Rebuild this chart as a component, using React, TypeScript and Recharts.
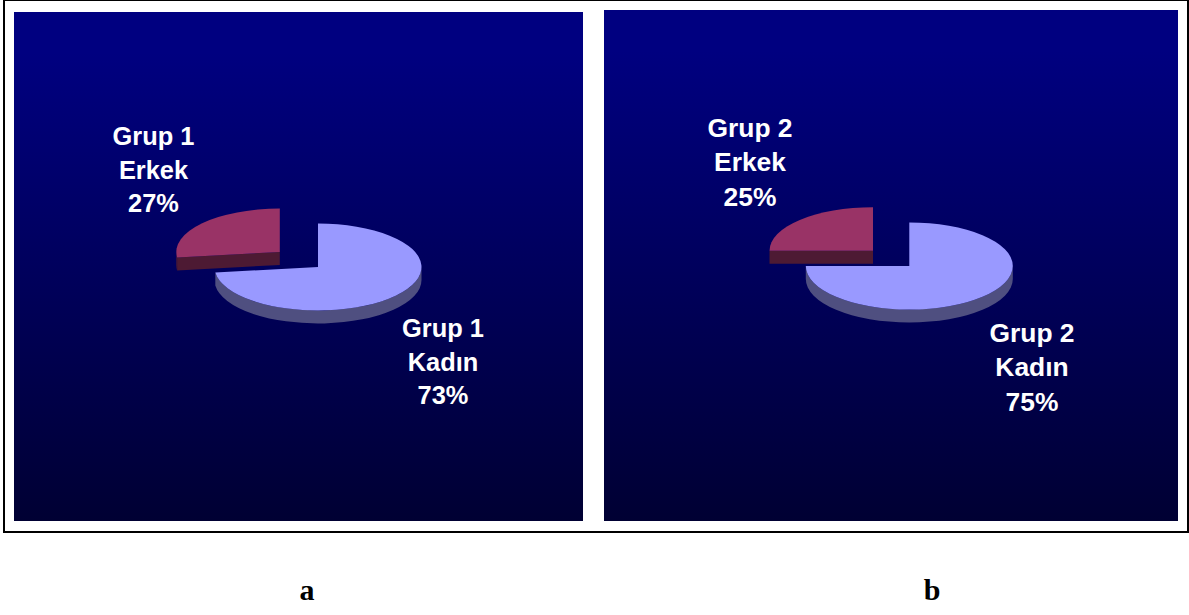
import { PieChart, Pie, Cell } from "recharts"

const categories = ["Kadın", "Erkek"]
const group1Values = [73, 27]
const group2Values = [75, 25]
const sliceColors = ["#9999ff", "#993366"]
const wallColors = ["#4f4f80", "#4d1a33"]

const SQUASH = 0.42
const DEPTH = 13

const toData = (values: number[]) => categories.map((name, i) => ({ name, value: values[i] }))

// Elliptical slice with a visible wall, so the flat pie reads as a tilted disc
function TiltedSlice(props: any) {
  const { cx, cy, outerRadius: r, startAngle, endAngle, index, shift } = props
  const ox = cx + (index === 1 ? shift.x : 0)
  const oy = cy + (index === 1 ? shift.y : 0)
  const pt = (deg: number, dy = 0) => {
    const a = (deg * Math.PI) / 180
    return [ox + r * Math.cos(a), oy - r * SQUASH * Math.sin(a) + dy]
  }
  const hi = Math.max(startAngle, endAngle)
  const lo = Math.min(startAngle, endAngle)
  const ry = r * SQUASH
  const sweep = startAngle > endAngle ? 1 : 0
  const big = hi - lo > 180 ? 1 : 0
  const [sx, sy] = pt(startAngle)
  const [ex, ey] = pt(endAngle)
  const top = `M${ox},${oy} L${sx},${sy} A${r},${ry} 0 ${big} ${sweep} ${ex},${ey} Z`

  // outer wall: only the part of the rim on the lower half is visible
  const walls: string[] = []
  const ranges = [[-180, 0], [180, 360]]
  ranges.forEach(([a, b]) => {
    const from = Math.max(a, lo)
    const to = Math.min(b, hi)
    if (to <= from) return
    const [x1, y1] = pt(from)
    const [x2, y2] = pt(to)
    const [x3, y3] = pt(to, DEPTH)
    const [x4, y4] = pt(from, DEPTH)
    walls.push(`M${x1},${y1} A${r},${ry} 0 0 0 ${x2},${y2} L${x3},${y3} A${r},${ry} 0 0 1 ${x4},${y4} Z`)
  })
  // cut face toward the viewer on the detached slice
  if (index === 1) {
    const [fx, fy] = pt(startAngle)
    walls.push(`M${ox},${oy} L${fx},${fy} L${fx},${fy + DEPTH} L${ox},${oy + DEPTH} Z`)
  }

  return (
    <g>
      {walls.map((d, i) => (
        <path key={i} d={d} fill={wallColors[index]} />
      ))}
      <path d={top} fill={sliceColors[index]} />
    </g>
  )
}

function PiePanel({ group, values, left, top, width, height, cx, cy, shift, labelSpots, fontSize, lineGap }: any) {
  const renderLabel = (p: any) => {
    const spot = labelSpots[p.index]
    const lines = [group, p.name, `${values[p.index]}%`]
    return (
      <text
        key={p.index}
        x={spot.x}
        y={spot.y}
        textAnchor="middle"
        fill="#ffffff"
        fontFamily="Liberation Sans, Arial, sans-serif"
        fontWeight="bold"
        fontSize={fontSize}
      >
        {lines.map((line, i) => (
          <tspan key={i} x={spot.x} dy={i === 0 ? 0 : lineGap}>
            {line}
          </tspan>
        ))}
      </text>
    )
  }

  return (
    <div
      style={{
        position: "absolute",
        left,
        top,
        width,
        height,
        background: "linear-gradient(#000080 0%, #000080 8%, #000033 100%)",
      }}
    >
      <PieChart width={width} height={height} margin={{ top: 0, right: 0, bottom: 0, left: 0 }}>
        <Pie
          data={toData(values)}
          dataKey="value"
          nameKey="name"
          cx={cx}
          cy={cy}
          outerRadius={103.5}
          startAngle={90}
          endAngle={-270}
          stroke="none"
          isAnimationActive={false}
          labelLine={false}
          label={renderLabel}
          shape={(p: any) => <TiltedSlice {...p} shift={shift} />}
        >
          {categories.map((c, i) => (
            <Cell key={c} fill={sliceColors[i]} />
          ))}
        </Pie>
      </PieChart>
    </div>
  )
}

export default function App() {
  return (
    <div style={{ position: "absolute", left: 0, top: 0, width: 1189, height: 615, background: "#fff", overflow: "hidden" }}>
      <div
        style={{
          position: "absolute",
          left: 3,
          top: -1,
          width: 1186,
          height: 534,
          border: "2px solid #000",
          boxSizing: "border-box",
        }}
      />
      <PiePanel
        group="Grup 1"
        values={group1Values}
        left={14}
        top={12}
        width={569}
        height={509}
        cx={304}
        cy={255}
        shift={{ x: -38.2, y: -15 }}
        fontSize={25.4}
        lineGap={33.7}
        labelSpots={[
          { x: 429, y: 325 },
          { x: 139.5, y: 133 },
        ]}
      />
      <PiePanel
        group="Grup 2"
        values={group2Values}
        left={604}
        top={10}
        width={574}
        height={511}
        cx={305.3}
        cy={256}
        shift={{ x: -36.3, y: -15.3 }}
        fontSize={26.4}
        lineGap={34.4}
        labelSpots={[
          { x: 428, y: 332 },
          { x: 146, y: 127 },
        ]}
      />
      {[
        { text: "a", x: 307 },
        { text: "b", x: 932 },
      ].map((c) => (
        <div
          key={c.text}
          style={{
            position: "absolute",
            left: c.x - 20,
            width: 40,
            top: 574,
            textAlign: "center",
            fontFamily: "Liberation Serif, Times New Roman, serif",
            fontWeight: "bold",
            fontSize: 30,
            lineHeight: "32px",
            color: "#000",
          }}
        >
          {c.text}
        </div>
      ))}
    </div>
  )
}
